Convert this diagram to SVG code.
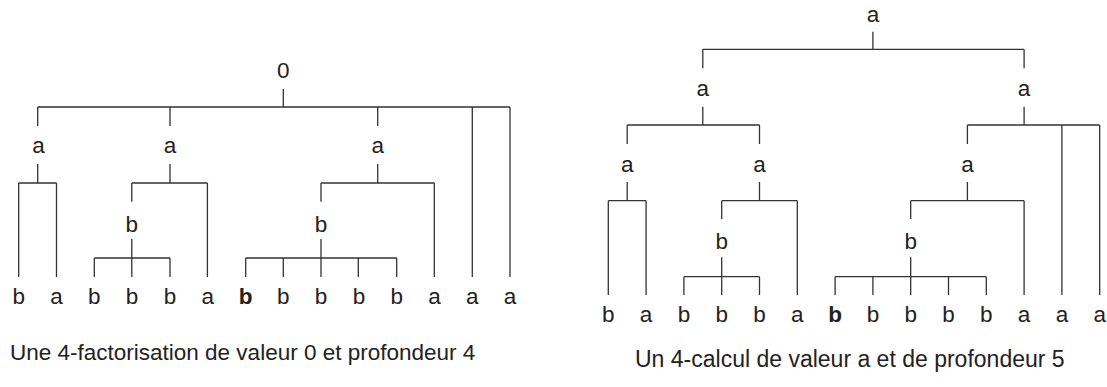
<svg xmlns="http://www.w3.org/2000/svg" width="1107" height="387" viewBox="0 0 1107 387">
<style>
text{font-family:"Liberation Sans",Arial,sans-serif;font-size:22.5px;fill:#222;text-anchor:middle}
.cap{text-anchor:start}
.cap2{text-anchor:start;font-size:23px}
.bold{font-weight:bold}
.c path{stroke:#333;stroke-width:1.3;fill:none}
</style>
<rect width="1107" height="387" fill="#fff"/>
<g class="c" id="connectors">
<path d="M283.3 89V107M37.7 107H510M37.7 107V126M170 107V126M377.7 107V126M472.3 107V277M510 107V277"/>
<path d="M37.7 164V183M18.7 183H56.5M18.7 183V277M56.5 183V277"/>
<path d="M170 164V183M131.8 183H207.4M131.8 183V201.7M207.4 183V277M131.8 239V277M94.3 258H170M94.3 258V277M170 258V277"/>
<path d="M377.7 164V183M321 183H434.3M321 183V201.7M434.3 183V277M321 239V277M245.7 258H396.7M245.7 258V277M283.3 258V277M358.3 258V277M396.7 258V277"/>
<path d="M872.9 31.7V49.3M702.8 49.3H1024.1M702.8 49.3V68.3M1024.1 49.3V68.3"/>
<path d="M702.8 106.7V125M627.2 125H759.5M627.2 125V144M759.5 125V144"/>
<path d="M627.2 182V200.7M608.3 200.7H646.1M608.3 200.7V295M646.1 200.7V295"/>
<path d="M759.5 182V200.7M721.7 200.7H797.3M721.7 200.7V219M797.3 200.7V295M721.7 257.3V295M683.9 276.7H759.5M683.9 276.7V295M759.5 276.7V295"/>
<path d="M1024.1 106.7V125M967.4 125H1099.7M967.4 125V144M1061.9 125V295M1099.7 125V295"/>
<path d="M967.4 182V200.7M910.7 200.7H1024.1M910.7 200.7V219M1024.1 200.7V295M910.7 257.3V295M835.1 276.7H986.3M835.1 276.7V295M872.9 276.7V295M948.5 276.7V295M986.3 276.7V295"/>
</g>
<g id="left-tree">
<g id="L-root"><text x="283.3" y="78.3">0</text></g>
<g id="L-a1"><text x="38.5" y="152.7">a</text></g>
<g id="L-a2"><text x="170" y="152.7">a</text></g>
<g id="L-a3"><text x="377.7" y="152.7">a</text></g>
<g id="L-b1"><text x="131.8" y="231.7">b</text></g>
<g id="L-b2"><text x="321" y="231.7">b</text></g>
<g id="L-leaves">
<text x="18.7" y="304">b</text>
<text x="56.5" y="304">a</text>
<text x="94.3" y="304">b</text>
<text x="132.1" y="304">b</text>
<text x="169.9" y="304">b</text>
<text x="207.7" y="304">a</text>
<text class="bold" x="245.5" y="304">b</text>
<text x="283.3" y="304">b</text>
<text x="321.1" y="304">b</text>
<text x="358.9" y="304">b</text>
<text x="396.7" y="304">b</text>
<text x="434.5" y="304">a</text>
<text x="472.3" y="304">a</text>
<text x="510.1" y="304">a</text>
</g>
<g id="L-caption"><text class="cap" x="10" y="360">Une 4-factorisation de valeur 0 et profondeur 4</text></g>
</g>
<g id="right-tree">
<g id="R-root"><text x="872.9" y="21.7">a</text></g>
<g id="R-a1"><text x="702.8" y="96">a</text></g>
<g id="R-a2"><text x="1024.1" y="96">a</text></g>
<g id="R-a3"><text x="627.2" y="172">a</text></g>
<g id="R-a4"><text x="759.5" y="172">a</text></g>
<g id="R-a5"><text x="967.4" y="172">a</text></g>
<g id="R-b1"><text x="721.7" y="249.3">b</text></g>
<g id="R-b2"><text x="910.7" y="249.3">b</text></g>
<g id="R-leaves">
<text x="608.3" y="322">b</text>
<text x="646.1" y="322">a</text>
<text x="683.9" y="322">b</text>
<text x="721.7" y="322">b</text>
<text x="759.5" y="322">b</text>
<text x="797.3" y="322">a</text>
<text class="bold" x="835.1" y="322">b</text>
<text x="872.9" y="322">b</text>
<text x="910.7" y="322">b</text>
<text x="948.5" y="322">b</text>
<text x="986.3" y="322">b</text>
<text x="1024.1" y="322">a</text>
<text x="1061.9" y="322">a</text>
<text x="1099.7" y="322">a</text>
</g>
<g id="R-caption"><text class="cap2" x="635" y="366.7">Un 4-calcul de valeur a et de profondeur 5</text></g>
</g>
</svg>
